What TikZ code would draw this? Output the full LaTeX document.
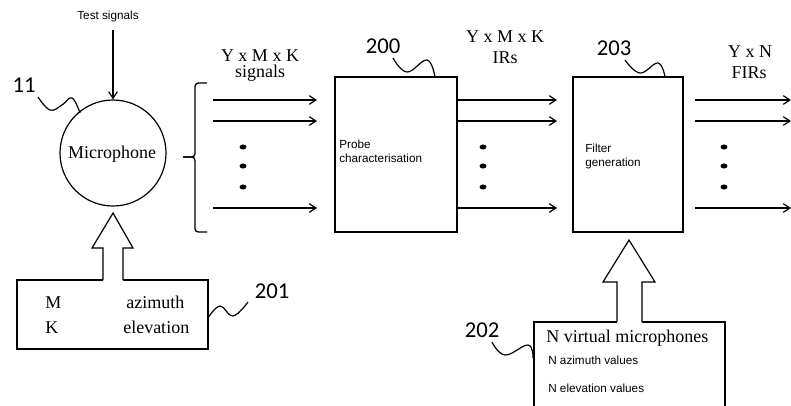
\documentclass[tikz,border=0pt]{standalone}
\usepackage{fontspec}
\setmainfont{Liberation Serif}
\setsansfont{Liberation Sans}
\newfontfamily\numfont{Carlito}
\usetikzlibrary{arrows.meta}
\begin{document}
\begin{tikzpicture}[x=0.75pt,y=-0.75pt,
  line/.style={line width=0.9pt},
  sig/.style={line width=1pt,-{Straight Barb[length=5pt,width=6.5pt,line width=0.9pt]}},
  box/.style={draw,line width=0.9pt,inner sep=0pt},
  ser/.style={font=\fontsize{13.5}{16}\selectfont,inner sep=0pt},
  san/.style={font=\sffamily\fontsize{8.8}{10.5}\selectfont,inner sep=0pt},
  num/.style={font=\numfont\fontsize{17}{20}\selectfont,inner sep=0pt},
  squig/.style={line width=0.9pt},
  dotmark/.style={x radius=2.6pt,y radius=1.9pt}
]
\useasboundingbox (0,0) rectangle (791,405);
\clip (0,0) rectangle (791,405);

% microphone
\node[draw,line width=0.9pt,circle,minimum size=79.5pt,inner sep=0pt] (mic) at (113,153) {};
\node[ser,anchor=base] (mictext) at (112,158) {Microphone};
\node[san,anchor=base] (test) at (108,19.3) {Test signals};
\coordinate (testend) at (113,30);
\draw[sig] (testend) -- (mic.north);
\node[num,anchor=base] (n11) at (24,92) {11};
\draw[squig] plot[smooth,tension=0.7] coordinates {(38,97) (50,110) (62,105) (72,98) (80,113)};

% brace
\coordinate (brtip) at (183,157);
\draw[line width=1pt,rounded corners=2.5pt] (207,83) -- (195,83) -- (195,157) -- (brtip);
\draw[line width=1pt,rounded corners=2.5pt] (brtip) -- (195,157) -- (195,232) -- (207,232);

% signals group
\node[ser,anchor=base] (lab1a) at (260,61) {Y x M x K};
\node[ser,anchor=base] (lab1b) at (260,77) {signals};
\foreach \y [count=\i] in {100,121,208} {
  \coordinate (a\i) at (213,\y);
  \coordinate (ae\i) at (317,\y);
  \draw[sig] (a\i) -- (ae\i);
}
\foreach \y in {147,166,187} \fill (243,\y) ellipse [dotmark];

% box 200
\node[box,minimum width=91.5pt,minimum height=116.25pt] (b200) at (396,154.5) {};
\node[san,anchor=base west,align=left] (probe1) at (339,148) {Probe};
\node[san,anchor=base west] (probe2) at (339,162) {characterisation};
\node[num,anchor=base] (n200) at (383,53) {200};
\draw[squig] plot[smooth,tension=0.7] coordinates {(393,58) (407,72) (427,60) (435,77)};

% IRs group
\node[ser,anchor=base] (lab2a) at (505,42) {Y x M x K};
\node[ser,anchor=base] (lab2b) at (505,63) {IRs};
\foreach \y [count=\i] in {100,121,208} {
  \coordinate (ir\i) at (557,\y);
  \draw[sig] (b200.east |- ir\i) -- (ir\i);
}
\foreach \y in {147,166,187} \fill (483,\y) ellipse [dotmark];

% box 203
\node[box,minimum width=82.5pt,minimum height=116.25pt] (b203) at (628,154.5) {};
\node[san,anchor=base west] (filt1) at (585,152) {Filter};
\node[san,anchor=base west] (filt2) at (585,166) {generation};
\node[num,anchor=base] (n203) at (614,55) {203};
\draw[squig] plot[smooth,tension=0.7] coordinates {(625,60) (640,73) (658,63) (665,77)};

% FIRs group
\node[ser,anchor=base] (lab3a) at (750,57) {Y x N};
\node[ser,anchor=base] (lab3b) at (749,78) {FIRs};
\foreach \y [count=\i] in {100,121,208} {
  \coordinate (f\i) at (695,\y);
  \coordinate (fe\i) at (791,\y);
  \draw[sig] (f\i) -- (fe\i);
}
\foreach \y in {147,166,187} \fill (724,\y) ellipse [dotmark];

% box 201
\node[box,minimum width=143.25pt,minimum height=51.75pt] (b201) at (112.5,314.5) {};
\node[ser,anchor=base west] (bm) at (45,308) {M};
\node[ser,anchor=base west] (bk) at (45,333) {K};
\node[ser,anchor=base west] (baz) at (126,308) {azimuth};
\node[ser,anchor=base west] (bel) at (123,333) {elevation};
\node[num,anchor=base] (n201) at (272,298) {201};
\draw[squig] plot[smooth,tension=0.7] coordinates {(208,318) (220,306) (233,316) (248,302)};
% hollow arrow 201 -> microphone
\fill[white] (103,281.5) -- (103,248) -- (92,248) -- (113,213) -- (133,248) -- (123,248) -- (123,281.5) -- cycle;
\draw[line,line join=miter] (103,280) -- (103,248) -- (92,248) -- (113,213) -- (133,248) -- (123,248) -- (123,280);

% box 202
\node[box,minimum width=143.25pt,minimum height=66pt] (b202) at (629.5,366) {};
\node[ser,anchor=base west] (nv) at (546,342.7) {N virtual microphones};
\node[san,anchor=base west] (naz) at (548,364) {N azimuth values};
\node[san,anchor=base west] (nel) at (548,392.7) {N elevation values};
\node[num,anchor=base] (n202) at (482,337) {202};
\draw[squig] plot[smooth,tension=0.7] coordinates {(492,342) (505,355) (528,345) (533,358)};
% hollow arrow 202 -> 203
\fill[white] (617,323.5) -- (617,282) -- (603,282) -- (629,240) -- (655,282) -- (642,282) -- (642,323.5) -- cycle;
\draw[line,line join=miter] (617,322) -- (617,282) -- (603,282) -- (629,240) -- (655,282) -- (642,282) -- (642,322);
\end{tikzpicture}
\end{document}
